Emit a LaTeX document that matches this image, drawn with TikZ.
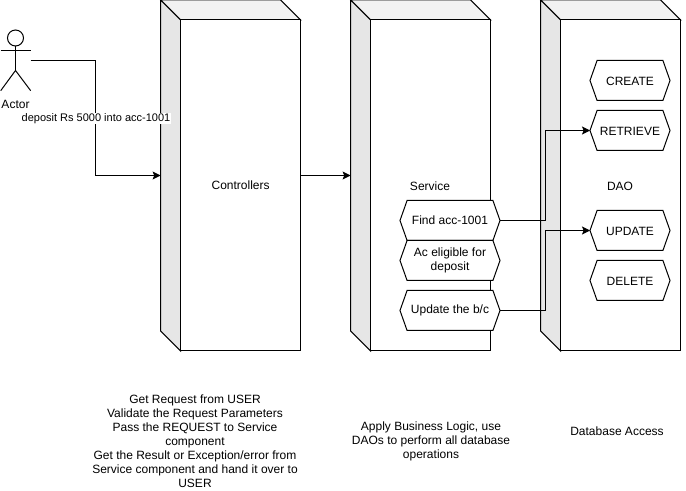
\documentclass[tikz,border=0pt]{standalone}
\usepackage{fontspec}
\setmainfont{Liberation Sans}
\usetikzlibrary{shapes.symbols,arrows.meta,calc}
\definecolor{sidegray}{HTML}{E6E6E6}
\definecolor{topgray}{HTML}{F2F2F2}
\tikzset{
  every node/.style={font=\fontsize{9}{10.5}\selectfont,text=black},
  outerblock/.style={minimum width=105pt,minimum height=263.25pt,inner sep=0pt,outer sep=0pt},
  frontblock/.style={draw=black,fill=white,line width=0.75pt,minimum width=90pt,minimum height=248.25pt,inner sep=0pt,outer sep=0pt},
  sideface/.style={draw=black,fill=sidegray,line width=0.75pt,line join=miter},
  topface/.style={draw=black,fill=topgray,line width=0.75pt,line join=miter},
  hexbox/.style={shape=signal,signal to=west and east,signal pointer angle=141,draw=black,fill=white,line width=0.75pt,
    minimum height=30pt,minimum width=75pt,inner sep=0pt,outer sep=0pt,align=center},
  hexsmall/.style={hexbox,minimum width=60pt,text height=7.5pt,text depth=0pt},
  flow/.style={draw=black,line width=0.75pt,-{Stealth[length=6pt,width=6pt,inset=1.2pt]}},
  plainlabel/.style={align=center,inner sep=0pt},
  actorline/.style={draw=black,line width=0.75pt},
}
\newcommand{\blockdraw}[3]{%
  \node[outerblock] (#1) at (#2,175.5) {};
  \path[topface] (#1.north west) -- ($(#1.north east)+(-15pt,0)$) -- ($(#1.north east)+(0,-15pt)$) -- ($(#1.north west)+(15pt,-15pt)$) -- cycle;
  \path[sideface] (#1.north west) -- ++(15pt,-15pt) -- ($(#1.south west)+(15pt,0)$) -- ($(#1.south west)+(0,15pt)$) -- cycle;
  \node[frontblock] (#1F) at ($(#1.center)+(7.5pt,-7.5pt)$) {#3};
}
\begin{document}
\begin{tikzpicture}[x=0.75pt,y=-0.75pt]
\useasboundingbox (0,0) rectangle (686,491);
% blocks
\blockdraw{ctrl}{230.6}{Controllers}
\blockdraw{svc}{420.6}{}
\blockdraw{dao}{610.6}{}
\node[plainlabel] (svclabel) at (430,186.5) {Service};
\node[plainlabel] (daolabel) at (620,186.5) {DAO};
% actor
\node[draw=black,line width=0.75pt,circle,minimum size=12pt,inner sep=0pt,outer sep=0pt] (head) at (15.5,38) {};
\coordinate (neck) at (15.5,70.5);
\coordinate (armL) at (0.7,50.7);
\coordinate (armR) at (30.7,50.7);
\coordinate (legL) at (0.7,90.7);
\coordinate (legR) at (30.7,90.7);
\coordinate (hand) at (30.7,60.7);
\draw[actorline] (head.south) -- (neck);
\draw[actorline] (armL) -- (armR);
\draw[actorline] (legL) -- (neck) -- (legR);
\node[plainlabel] (actorlabel) at (15.5,104.5) {Actor};
% hexagons
\node[hexbox] (find) at (450,220.5) {Find acc-1001};
\node[hexbox] (elig) at (450,260.5) {Ac eligible for\\deposit};
\node[hexbox] (upd) at (450,310.5) {Update the b/c};
\node[hexsmall] (create) at (630,80.5) {CREATE};
\node[hexsmall] (retr) at (630,130.5) {RETRIEVE};
\node[hexsmall] (updt) at (630,230.5) {UPDATE};
\node[hexsmall] (del) at (630,280.5) {DELETE};
% connectors
\coordinate (bendA) at (95.6,60.7);
\draw[flow] (hand) -- (bendA) |- (ctrl.west);
\node[fill=white,inner sep=0.5pt,font=\fontsize{8.25}{10}\selectfont] (deposit) at (96,118.7) {deposit Rs 5000 into acc-1001};
\draw[flow] (ctrl.east) -- (svc.west);
\coordinate (bendB) at (545.3,220.5);
\coordinate (bendC) at (545.3,310.5);
\draw[flow] (find.east) -- (bendB) |- (retr.west);
\draw[flow] (upd.east) -- (bendC) |- (updt.west);
% captions
\node[plainlabel] (capctrl) at (195,441.5) {Get Request from USER\\Validate the Request Parameters\\Pass the REQUEST to Service\\component\\Get the Result or Exception/error from\\Service component and hand it over to\\USER};
\node[plainlabel] (capsvc) at (431,441.5) {Apply Business Logic, use\\DAOs to perform all database\\operations};
\node[plainlabel] (capdao) at (617,431.5) {Database Access};
\end{tikzpicture}
\end{document}
